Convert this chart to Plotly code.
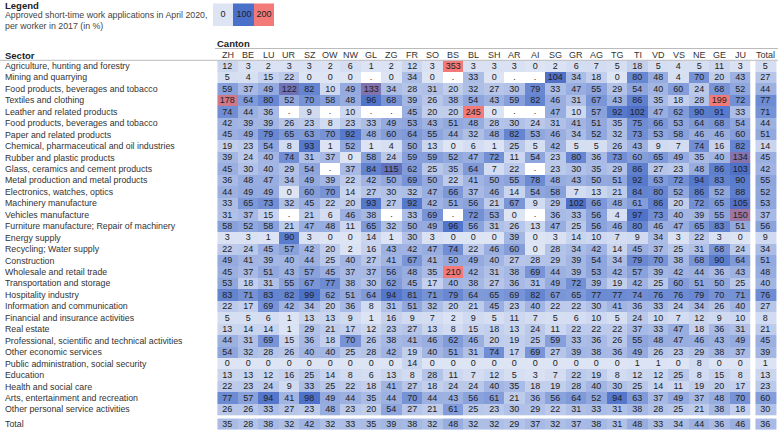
import plotly.graph_objects as go

N = None
FONT = "Liberation Sans, Arial, sans-serif"

cantons = ["ZH", "BE", "LU", "UR", "SZ", "OW", "NW", "GL", "ZG", "FR", "SO", "BS", "BL",
           "SH", "AR", "AI", "SG", "GR", "AG", "TG", "TI", "VD", "VS", "NE", "GE", "JU"]

sectors = [
    "Agriculture, hunting and forestry", "Mining and quarrying",
    "Food products, beverages and tobacco", "Textiles and clothing",
    "Leather and related products", "Food products, beverages and tobacco",
    "Paper and related products", "Chemical, pharmaceutical and oil industries",
    "Rubber and plastic products", "Glass, ceramics and cement products",
    "Metal production and metal products", "Electronics, watches, optics",
    "Machinery manufacture", "Vehicles manufacture",
    "Furniture manufacture; Repair of machinery", "Energy supply",
    "Recycling; Water supply", "Construction", "Wholesale and retail trade",
    "Transportation and storage", "Hospitality industry",
    "Information and communication", "Financial and insurance activities",
    "Real estate", "Professional, scientific and technical activities",
    "Other economic services", "Public administration, social security",
    "Education", "Health and social care", "Arts, entertainment and recreation",
    "Other personal service activities",
]

agriculture = [12, 3, 2, 3, 3, 2, 6, 1, 2, 12, 3, 353, 3, 3, 3, 0, 2, 6, 7, 5, 18, 5, 4, 5, 11, 3]
mining = [5, 4, 15, 22, 0, 0, 0, N, 0, 34, 0, N, 33, 0, N, N, 104, 34, 18, 0, 80, 48, 4, 70, 20, 43]
food_1 = [59, 37, 49, 122, 82, 10, 49, 133, 34, 28, 31, 20, 32, 27, 30, 79, 33, 47, 55, 29, 54, 40, 60, 24, 68, 52]
textiles = [178, 64, 80, 52, 70, 58, 48, 96, 68, 39, 26, 38, 54, 43, 59, 82, 46, 31, 67, 43, 86, 35, 18, 28, 199, 72]
leather = [74, 44, 36, N, 9, N, 10, N, N, 45, 20, 20, 245, 0, N, N, 47, 10, 57, 92, 102, 47, 62, 90, 91, 33]
food_2 = [42, 39, 39, 26, 23, 8, 23, 33, 49, 53, 43, 51, 48, 28, 30, 24, 31, 41, 51, 35, 75, 66, 53, 64, 68, 54]
paper = [45, 49, 79, 65, 63, 70, 92, 48, 60, 64, 55, 44, 32, 48, 82, 53, 46, 34, 52, 32, 73, 53, 58, 46, 46, 60]
chemical = [19, 23, 54, 8, 93, 1, 52, 1, 4, 50, 13, 0, 6, 1, 25, 5, 42, 5, 5, 26, 43, 9, 7, 74, 16, 82]
rubber = [39, 24, 40, 74, 31, 37, 0, 58, 24, 59, 59, 52, 47, 72, 11, 54, 23, 80, 36, 73, 60, 65, 49, 35, 40, 134]
glass = [45, 30, 40, 29, 54, N, 37, 84, 115, 62, 25, 35, 64, 7, 22, N, 23, 30, 35, 29, 86, 27, 23, 48, 86, 103]
metal = [36, 48, 47, 34, 49, 39, 22, 42, 50, 69, 50, 22, 41, 50, 55, 78, 48, 43, 50, 51, 92, 63, 72, 94, 83, 90]
electronics = [44, 49, 49, 0, 60, 70, 14, 27, 30, 32, 47, 66, 37, 46, 14, 54, 58, 7, 13, 21, 84, 80, 52, 86, 52, 88]
machinery = [33, 65, 73, 32, 45, 22, 20, 93, 27, 92, 42, 51, 56, 21, 67, 9, 29, 102, 66, 48, 61, 86, 20, 72, 65, 105]
vehicles = [31, 37, 15, N, 21, 6, 46, 38, N, 33, 69, N, 72, 53, 0, N, 36, 33, 56, 4, 97, 73, 40, 39, 55, 150]
furniture = [58, 52, 58, 21, 47, 48, 11, 65, 32, 50, 49, 96, 56, 31, 26, 13, 47, 25, 56, 46, 80, 46, 47, 65, 83, 51]
energy = [3, 3, 1, 90, 3, 0, 0, 14, 1, 30, 3, 0, 0, 0, 39, 0, 3, 14, 10, 7, 9, 34, 3, 22, 3, 0]
recycling = [22, 24, 45, 57, 42, 20, 2, 16, 43, 42, 47, 74, 22, 46, 60, 0, 28, 34, 42, 14, 45, 37, 25, 31, 68, 24]
construction = [49, 41, 39, 40, 44, 25, 40, 27, 41, 67, 41, 50, 49, 40, 27, 28, 29, 39, 54, 34, 79, 70, 38, 68, 90, 64]
wholesale = [45, 37, 51, 43, 57, 45, 37, 37, 56, 48, 35, 210, 42, 31, 38, 69, 44, 39, 53, 42, 57, 39, 42, 44, 36, 43]
transport = [53, 18, 31, 55, 67, 77, 38, 30, 62, 45, 17, 40, 38, 27, 36, 31, 49, 72, 39, 19, 42, 25, 60, 51, 50, 25]
hospitality = [83, 71, 83, 82, 99, 62, 51, 64, 94, 81, 71, 79, 64, 65, 69, 82, 67, 65, 77, 77, 74, 76, 76, 79, 70, 71]
information = [22, 17, 69, 42, 34, 20, 36, 8, 31, 51, 32, 20, 21, 45, 23, 40, 22, 22, 30, 41, 36, 33, 24, 34, 26, 40]
financial = [5, 5, 6, 1, 13, 13, 9, 1, 16, 9, 7, 2, 9, 5, 11, 7, 5, 6, 10, 5, 24, 10, 7, 12, 9, 10]
real_estate = [13, 14, 14, 1, 29, 21, 17, 12, 23, 27, 13, 8, 15, 18, 13, 24, 11, 22, 22, 22, 37, 33, 47, 18, 36, 31]
professional = [44, 31, 69, 15, 36, 18, 70, 26, 38, 41, 46, 62, 46, 20, 19, 25, 59, 33, 36, 26, 55, 48, 47, 46, 43, 49]
other_economic = [54, 32, 28, 26, 40, 40, 25, 28, 42, 19, 40, 51, 31, 74, 17, 69, 27, 39, 38, 36, 49, 26, 23, 29, 38, 37]
public_admin = [0, 0, 0, 0, 0, 0, 0, 0, 0, 14, 0, 0, 0, 0, 0, 0, 0, 0, 0, 0, 1, 1, 0, 8, 0, 0]
education = [13, 13, 12, 16, 25, 14, 8, 6, 13, 8, 28, 11, 7, 12, 5, 3, 7, 22, 19, 8, 12, 12, 25, 8, 15, 8]
health = [22, 23, 24, 9, 33, 25, 22, 18, 41, 27, 18, 24, 24, 40, 35, 18, 19, 28, 40, 30, 25, 14, 11, 19, 20, 17]
arts = [77, 57, 94, 41, 98, 49, 44, 35, 44, 70, 44, 43, 56, 61, 21, 36, 56, 64, 52, 94, 63, 37, 49, 37, 48, 70]
other_personal = [26, 26, 33, 27, 23, 48, 23, 20, 54, 27, 21, 61, 25, 23, 30, 29, 22, 31, 33, 31, 38, 28, 25, 21, 38, 18]

sector_totals = [5, 27, 44, 77, 71, 44, 51, 14, 45, 42, 55, 52, 53, 37, 56, 9, 34, 51, 48, 40,
                 76, 27, 8, 21, 45, 39, 1, 13, 23, 60, 30]
canton_totals = [35, 28, 38, 32, 42, 32, 33, 35, 39, 38, 32, 48, 32, 32, 29, 37, 32, 37, 38, 31,
                 48, 33, 34, 44, 36, 46]
grand_total = 36

legend_values = [0, 100, 200]

rows = [agriculture, mining, food_1, textiles, leather, food_2, paper, chemical, rubber,
        glass, metal, electronics, machinery, vehicles, furniture, energy, recycling,
        construction, wholesale, transport, hospitality, information, financial,
        real_estate, professional, other_economic, public_admin, education, health,
        arts, other_personal]

W, H = 778, 430
colorscale = [[0, "#dde4f4"], [0.5, "#4b70c9"], [1, "#f37a78"]]
TXT = dict(family=FONT, size=9, color="#222222")

def txt(v):
    return "" if v is None else str(v)

TOTAL_X = 26.25
TOTAL_Y = 31.3
n_rows = len(rows)
n_cols = len(cantons)

common = dict(colorscale=colorscale, zmin=0, zmax=200, showscale=False,
              hoverinfo="skip", texttemplate="%{text}", textfont=TXT)

fig = go.Figure()
# main table
fig.add_trace(go.Heatmap(x=list(range(n_cols)), y=list(range(n_rows)), z=rows,
                         text=[[txt(v) for v in r] for r in rows], **common))
# total column
fig.add_trace(go.Heatmap(x0=TOTAL_X, dx=1, y=list(range(n_rows)),
                         z=[[v] for v in sector_totals],
                         text=[[txt(v)] for v in sector_totals], **common))
# total row
fig.add_trace(go.Heatmap(x=list(range(n_cols)), y0=TOTAL_Y, dy=1,
                         z=[canton_totals], text=[[txt(v) for v in canton_totals]], **common))
# grand total
fig.add_trace(go.Heatmap(x0=TOTAL_X, dx=1, y0=TOTAL_Y, dy=1,
                         z=[[grand_total]], text=[[txt(grand_total)]], **common))
# missing values
mx, my = [], []
for i, r in enumerate(rows):
    for j, v in enumerate(r):
        if v is None:
            mx.append(j)
            my.append(i)
fig.add_trace(go.Scatter(x=mx, y=my, mode="text", text=["."] * len(mx),
                         textfont=TXT, hoverinfo="skip", showlegend=False))
# legend swatches
fig.add_trace(go.Heatmap(x=list(range(len(legend_values))), y=[0], z=[legend_values],
                         text=[[str(v) for v in legend_values]], xaxis="x2", yaxis="y2",
                         **common))

def px(x):
    return x / W

def py(y):
    return 1 - y / H

x_left = 217.25
top = 60.3
fig.update_layout(
    width=W, height=H,
    margin=dict(l=0, r=0, t=0, b=0),
    paper_bgcolor="white", plot_bgcolor="white",
    showlegend=False,
    font=dict(family=FONT, size=9, color="#333333"),
    xaxis=dict(domain=[px(x_left), 1], range=[-0.5, 26.85], visible=False, fixedrange=True),
    yaxis=dict(domain=[0, py(top)], range=[31.8, -0.5], visible=False, fixedrange=True),
    xaxis2=dict(domain=[px(213), px(274)], range=[-0.5, 2.5], visible=False, anchor="y2",
                fixedrange=True),
    yaxis2=dict(domain=[py(26), py(3.3)], range=[-0.5, 0.5], visible=False, anchor="x2",
                fixedrange=True),
)

ann = []
def add(text, x, y, xref="paper", yref="paper", xanchor="left", size=9, bold=False, color="#333333"):
    ann.append(dict(text=f"<b>{text}</b>" if bold else text, x=x, y=y, xref=xref, yref=yref,
                    xanchor=xanchor, yanchor="middle", showarrow=False,
                    font=dict(family=FONT, size=size, color=color)))

add("Legend", px(3), py(5), size=9.5, bold=True, color="#222222")
add("Approved short-time work applications in April 2020,", px(3), py(15.5), size=8.8, color="#444444")
add("per worker in 2017 (in %)", px(3), py(25.5), size=8.8, color="#444444")
add("Canton", px(215), py(43.5), size=9.5, bold=True, color="#222222")
add("Sector", px(3), py(55), size=9.5, bold=True, color="#222222")
for j, c in enumerate(cantons):
    add(c, j, py(55), xref="x", xanchor="center")
add("Total", TOTAL_X, py(55), xref="x", xanchor="center")
for i, s in enumerate(sectors):
    add(s, px(3), i, yref="y", size=8.8)
add("Total", px(3), TOTAL_Y, yref="y", size=8.8)

fig.update_layout(annotations=ann, shapes=[
    dict(type="line", xref="paper", yref="paper", x0=px(215), x1=1, y0=py(48.5), y1=py(48.5),
         line=dict(color="#bbbbbb", width=1)),
    dict(type="line", xref="paper", yref="paper", x0=0, x1=1, y0=py(60.3), y1=py(60.3),
         line=dict(color="#bbbbbb", width=1)),
])

fig.write_html("out.html", config={"displayModeBar": False},
               post_script="document.body.style.margin='0';document.body.style.overflow='hidden';")
